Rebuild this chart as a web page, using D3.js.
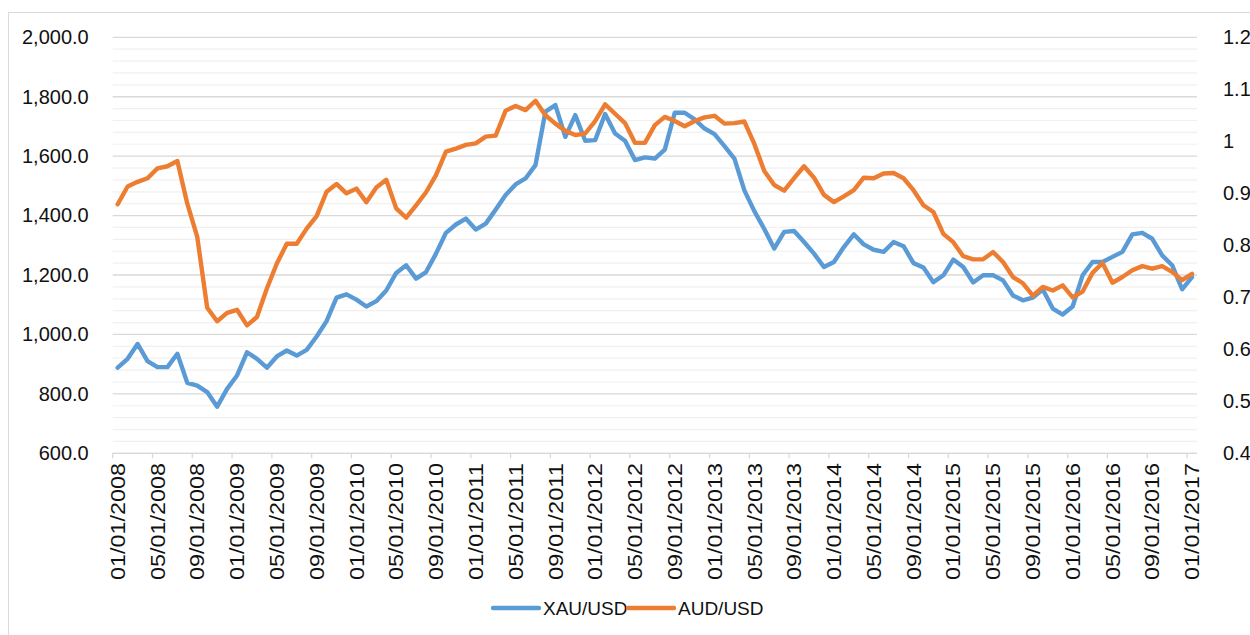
<!DOCTYPE html>
<html>
<head>
<meta charset="utf-8">
<script src="https://cdn.jsdelivr.net/npm/d3@7"></script>
<style>
  body { margin: 0; background: #fff; }
  svg { display: block; }
  text { font-family: "Liberation Sans", Arial, sans-serif; fill: #111; }
</style>
</head>
<body>
<svg id="chart" width="1250" height="635"></svg>
<script>
// monthly categories, 01/01/2008 -> 01/01/2017
const months = d3.timeMonth.range(new Date(2008, 0, 1), new Date(2017, 1, 1))

// XAU/USD (left axis)
const xau = [888, 918, 968, 910, 890, 890, 935, 837, 828, 806, 757, 817,
  862, 940, 918, 888, 926, 946, 929, 948, 993, 1045, 1124, 1135,
  1117, 1094, 1112, 1148, 1207, 1233, 1188, 1210, 1272, 1342, 1370, 1390,
  1353, 1373, 1420, 1469, 1505, 1525, 1570, 1750, 1772, 1665, 1738, 1652,
  1654, 1742, 1676, 1652, 1587, 1596, 1592, 1622, 1746, 1746, 1724, 1693,
  1674, 1634, 1592, 1485, 1415, 1355, 1289, 1345, 1348, 1311, 1272, 1227,
  1244, 1294, 1337, 1303, 1285, 1278, 1311, 1297, 1240, 1225, 1176, 1199,
  1252, 1227, 1175, 1199, 1199, 1182, 1131, 1115, 1124, 1151, 1087, 1067,
  1094, 1199, 1244, 1244, 1261, 1278, 1337, 1342, 1322, 1266, 1233, 1152,
  1193]

// AUD/USD (right axis)
const aud = [0.879, 0.913, 0.922, 0.929, 0.948, 0.952, 0.962, 0.880, 0.816, 0.680, 0.654, 0.670,
  0.676, 0.646, 0.662, 0.717, 0.765, 0.803, 0.803, 0.832, 0.856, 0.903, 0.918, 0.900,
  0.909, 0.883, 0.911, 0.926, 0.871, 0.853, 0.877, 0.902, 0.935, 0.980, 0.986, 0.993,
  0.996, 1.009, 1.011, 1.059, 1.068, 1.060, 1.078, 1.050, 1.034, 1.020, 1.012, 1.015,
  1.039, 1.071, 1.053, 1.035, 0.997, 0.997, 1.031, 1.047, 1.039, 1.029, 1.039, 1.046,
  1.049, 1.034, 1.035, 1.038, 0.995, 0.943, 0.916, 0.905, 0.929, 0.952, 0.930, 0.897,
  0.883, 0.894, 0.906, 0.930, 0.929, 0.938, 0.939, 0.929, 0.906, 0.877, 0.864, 0.822,
  0.806, 0.779, 0.773, 0.773, 0.787, 0.768, 0.739, 0.727, 0.703, 0.720, 0.713, 0.723,
  0.700, 0.711, 0.747, 0.766, 0.728, 0.739, 0.752, 0.760, 0.755, 0.760, 0.749, 0.733,
  0.745]

const xTickLabels = ["01/01/2008", "05/01/2008", "09/01/2008", "01/01/2009", "05/01/2009",
  "09/01/2009", "01/01/2010", "05/01/2010", "09/01/2010", "01/01/2011", "05/01/2011",
  "09/01/2011", "01/01/2012", "05/01/2012", "09/01/2012", "01/01/2013", "05/01/2013",
  "09/01/2013", "01/01/2014", "05/01/2014", "09/01/2014", "01/01/2015", "05/01/2015",
  "09/01/2015", "01/01/2016", "05/01/2016", "09/01/2016", "01/01/2017"]
const leftTicks = [600, 800, 1000, 1200, 1400, 1600, 1800, 2000]
const rightTicks = [0.4, 0.5, 0.6, 0.7, 0.8, 0.9, 1.0, 1.1, 1.2]
const seriesNames = ["XAU/USD", "AUD/USD"]
const colors = ["#5b9bd5", "#ed7d31"]

const svg = d3.select("#chart")
const plotL = 112.7, plotR = 1197, plotT = 37.3, plotB = 453.3

// chart frame
svg.append("rect")
  .attr("x", 8.5).attr("y", 12.5)
  .attr("width", 1260).attr("height", 640)
  .attr("fill", "#fff").attr("stroke", "#d9d9d9")

const x = d3.scaleBand().domain(months).range([plotL, plotR]).padding(0)
const cx = d => x(d) + x.bandwidth() / 2
const y = d3.scaleLinear().domain([600, 2000]).range([plotB, plotT])
const y2 = d3.scaleLinear().domain([0.4, 1.2]).range([plotB, plotT])

// gridlines (minor every 40, major every 200)
svg.append("g").selectAll("line")
  .data(d3.range(600, 2001, 40))
  .join("line")
  .attr("x1", plotL).attr("x2", plotR)
  .attr("y1", d => y(d)).attr("y2", d => y(d))
  .attr("stroke", d => d % 200 === 0 ? "#d9d9d9" : "#f0f0f0")
  .attr("stroke-width", d => d % 200 === 0 ? 1.3 : 1.2)

// bottom axis line + ticks at category boundaries
svg.append("line")
  .attr("x1", plotL).attr("x2", plotR)
  .attr("y1", plotB).attr("y2", plotB)
  .attr("stroke", "#d9d9d9").attr("stroke-width", 1.3)

const tickMonths = months.filter((d, i) => i % 4 === 0)
svg.append("g").selectAll("line")
  .data(tickMonths)
  .join("line")
  .attr("x1", d => x(d)).attr("x2", d => x(d))
  .attr("y1", plotB).attr("y2", plotB + 5)
  .attr("stroke", "#d9d9d9").attr("stroke-width", 1.3)

// x labels, rotated
svg.append("g").selectAll("text")
  .data(tickMonths)
  .join("text")
  .attr("transform", d => `translate(${cx(d)},463) rotate(-90)`)
  .attr("text-anchor", "end")
  .attr("dy", "0.36em")
  .attr("font-size", 20)
  .attr("textLength", 117)
  .attr("lengthAdjust", "spacingAndGlyphs")
  .text((d, i) => xTickLabels[i])

// left axis
const yAxis = svg.append("g")
  .attr("transform", `translate(${plotL - 21},0)`)
  .call(d3.axisLeft(y).tickValues(leftTicks).tickSize(0).tickFormat(d3.format(",.1f")))
yAxis.select(".domain").remove()
yAxis.selectAll("text").attr("font-size", 20).attr("fill", "#111")
  .style("font-family", '"Liberation Sans", Arial, sans-serif')

// right axis
const y2Axis = svg.append("g")
  .attr("transform", `translate(${plotR + 23},0)`)
  .call(d3.axisRight(y2).tickValues(rightTicks).tickSize(0).tickFormat(d => String(+d.toFixed(1))))
y2Axis.select(".domain").remove()
y2Axis.selectAll("text").attr("font-size", 20).attr("fill", "#111")
  .style("font-family", '"Liberation Sans", Arial, sans-serif')

// lines
const lineL = d3.line().x((d, i) => cx(months[i])).y(d => y(d))
const lineR = d3.line().x((d, i) => cx(months[i])).y(d => y2(d))

svg.append("path").datum(xau)
  .attr("d", lineL)
  .attr("fill", "none").attr("stroke", colors[0])
  .attr("stroke-width", 4.4).attr("stroke-linejoin", "round").attr("stroke-linecap", "round")

svg.append("path").datum(aud)
  .attr("d", lineR)
  .attr("fill", "none").attr("stroke", colors[1])
  .attr("stroke-width", 4.4).attr("stroke-linejoin", "round").attr("stroke-linecap", "round")

// legend
const legendX = [493, 628]
const legend = svg.append("g")
seriesNames.forEach((name, i) => {
  legend.append("line")
    .attr("x1", legendX[i]).attr("x2", legendX[i] + 46)
    .attr("y1", 608).attr("y2", 608)
    .attr("stroke", colors[i]).attr("stroke-width", 4.4).attr("stroke-linecap", "round")
  legend.append("text")
    .attr("x", legendX[i] + 50).attr("y", 608)
    .attr("dy", "0.35em")
    .attr("font-size", 19)
    .text(name)
})
</script>
</body>
</html>
